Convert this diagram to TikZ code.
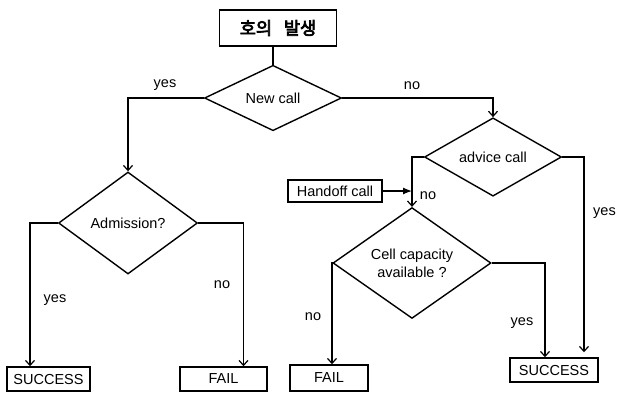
\documentclass[tikz,border=0pt]{standalone}
\usepackage{fontspec}
\setmainfont{Liberation Sans}
\newfontfamily\krfont[FakeBold=4]{Noto Sans CJK KR}
\usetikzlibrary{shapes.geometric, arrows.meta, positioning}
\tikzset{
  box/.style={draw, line width=1.5pt, inner sep=0pt, font=\fontsize{14.5}{16}\selectfont},
  decision/.style={draw, diamond, line width=1.4pt, inner sep=0pt, align=center, font=\fontsize{14.5}{18}\selectfont},
  lbl/.style={font=\fontsize{14.5}{16}\selectfont},
  flow/.style={line width=1.2pt, -{Straight Barb[length=5pt,width=9pt]}}
}

\begin{document}
\begin{tikzpicture}[x=1pt, y=-1pt]
    \useasboundingbox (0,0) rectangle (618,392);

    \node[box, minimum width=117pt, minimum height=36pt, font=\krfont\fontsize{17.5}{20}\selectfont] (start) at (278,28) {호의\hspace{8pt} 발생};

    \node[decision, minimum width=137pt, minimum height=62pt] (new) at (273,98) {New call};
    \node[decision, minimum width=139pt, minimum height=102pt] (adm) at (128,223) {Admission?};
    \node[decision, minimum width=137pt, minimum height=64pt] (adv) at (493,157) {advice call};
    \node[decision, minimum width=158pt, minimum height=80pt] (cell) at (412,263) {Cell capacity\\available ?};

    \node[box, minimum width=94pt, minimum height=22pt] (hand) at (335,191) {Handoff call};
    \node[box, minimum width=83pt, minimum height=24pt] (succa) at (48.5,379) {SUCCESS};
    \node[box, minimum width=87pt, minimum height=24pt] (faila) at (223.5,379) {FAIL};
    \node[box, minimum width=78pt, minimum height=26pt] (failb) at (329,378) {FAIL};
    \node[box, minimum width=88pt, minimum height=24pt] (succb) at (554,370) {SUCCESS};

    \node[lbl] (yesnew) at (165,85) {yes};
    \node[lbl] (nonew) at (412,86) {no};
    \node[lbl] (yesadm) at (55,300) {yes};
    \node[lbl] (noadm) at (222,285) {no};
    \node[lbl] (noadv) at (428,196) {no};
    \node[lbl, anchor=east, inner sep=0pt] (yesadv) at (616,213) {yes};
    \node[lbl] (nocell) at (313,317) {no};
    \node[lbl] (yescell) at (522,323) {yes};

    \draw[line width=1.2pt] (start.south -| new.north) -- (new.north);
    \draw[flow] (new.west) -| (adm.north);
    \draw[flow] (new.east) -| (adv.north);
    \draw[flow] (adm.west) -| ([xshift=-18.5pt]succa.north);
    \draw[flow] (adm.east) -| ([xshift=20pt]faila.north);
    \draw[flow] (adv.west) -| (cell.north);
    \draw[line width=1.2pt, -{Latex[length=9pt,width=7pt]}] (hand.east) -- (hand.east -| cell.north);
    \draw[flow, shorten >=5pt] (adv.east) -| ([xshift=30pt]succb.north);
    \draw[flow] (cell.west) -| ([xshift=3pt]failb.north);
    \draw[flow] (cell.east) -| ([xshift=-9pt]succb.north);
\end{tikzpicture}
\end{document}
